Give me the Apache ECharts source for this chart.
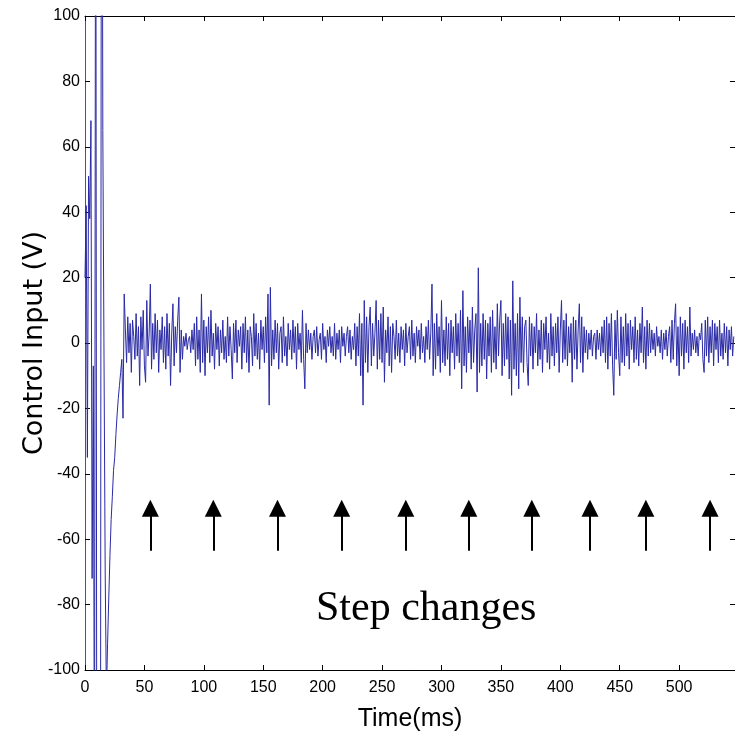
<!DOCTYPE html>
<html>
<head>
<meta charset="utf-8">
<script src="https://cdn.jsdelivr.net/npm/echarts@6/dist/echarts.min.js"></script>
<style>html,body{margin:0;padding:0;background:#fff;}#c{width:735px;height:737px;}</style>
</head>
<body>
<div id="c"></div>
<script>
// Time axis: one sample per ms. Values in volts.
const transientStart = 0;
const transient = [20, 42, -35, 51, 38, 68, -72, -7, -150, 200, -180, -250, -220, -160, 260, 65, -4, -70, -108, -92,
  -78, -65, -54, -47, -39, -35, -28, -22, -17, -13, -9, -5, -23, 15];

const noiseStart = 34;
const noiseA = [4, -6, 8, -3, 6, -9, 7, 2, -5, 9,
  -4, 5, -13, 8, -2, 10, -7, -12, 13, -4,
  3, 18, -8, 6, -5, 9, -3, 7, -9, 4,
  -2, 8, -6, 5, -8, 9, -4, 6, -13, 3,
  12, -7, 5, -3, 7, 14, -9, 4, -5, 2,
  -1, 3, -2, 1, 2, -3, 4, -2, 6, -7,
  8, -5, 4, -9, 15, -6, 7, -10, 5, -3,
  8, -6, 10, -4, 3, -8, 6, -2, 5, -7,
  4, -3, 7, -5, 2, -6, 8, -4, 5, -2,
  -11, 6, -3, 7, -6, 4, -1, 5, -8, 6];
const noiseB = [-3, 8, -6, 4, -9, 5, 2, -7, 9, -4,
  6, -5, 3, -8, 7, -2, 5, -6, 8, -3,
  15, -19, 17, -7, 4, -5, 7, -3, 6, -8,
  3, 5, -6, 8, -4, 2, -7, 6, -2, 4,
  -5, 7, -3, 5, -8, 6, -2, 3, -6, 10,
  -5, -14, 6, -3, 4, -2, 3, -5, 2, 4,
  -3, 5, -4, 1, 3, -5, 6, -2, 2, -6,
  4, -1, 5, -3, 2, -4, 6, -5, 3, -2,
  4, -6, 5, -1, 3, -4, 2, 5, -3, 4,
  -5, 2, -2, 6, -7, 5, -4, 9, -10, 6];
const noiseC = [-19, 13, -6, 8, -9, 5, 11, -7, 6, -4,
  3, 13, -8, 7, -5, 9, -6, 11, -12, 4,
  -3, 8, -7, 5, -9, 6, 2, -5, 7, -4,
  3, -6, 5, -2, 4, -7, 6, -3, 2, 5,
  -5, 7, -4, 3, -6, 5, -1, 4, -5, 6,
  -3, 2, -6, 5, -2, 7, -5, 3, 18, -10,
  6, -8, 9, -4, 5, -9, 13, -6, 4, -7,
  8, -5, 6, -10, 7, -3, 5, -8, 9, -4,
  6, -6, 10, -14, 16, -7, 5, -9, 8, -3,
  7, -8, 11, -6, 4, 9, -15, 23, -9, 6];
const noiseD = [-7, 9, -5, 7, -11, 6, -4, 8, -9, 10,
  -6, 5, -8, 12, -4, 7, 13, -10, 6, -7,
  9, -5, 8, -11, 7, -16, 19, -8, 6, -10,
  9, -14, 14, -6, 8, -9, 5, 7, -6, -13,
  8, -4, 6, -8, 5, -3, 9, -7, 4, -5,
  7, -9, 6, -2, 8, -6, 3, -8, 9, -4,
  5, -7, 6, -3, 8, -9, 4, 13, -6, 7,
  -5, 9, -7, 5, -3, 6, -12, 8, -5, 7,
  -8, 4, 12, -6, 8, -9, 5, -3, 4, -5,
  3, -2, 4, -4, 2, 3, -5, 4, -2, 3];
const noiseE = [-4, 5, -3, 7, -6, 8, -8, 6, -4, 9,
  -7, -16, 7, -5, 10, -3, -10, 8, -6, 5,
  -7, 9, -4, 6, -8, 7, -2, 5, -6, 8,
  -5, 4, -7, 6, -3, 11, -6, 5, -8, 7,
  -4, 6, -3, 4, -2, 3, -4, 5, -1, 2,
  -3, 4, -5, 3, -2, 4, -4, 2, 5, -6,
  7, -5, 6, 12, -7, 5, -10, 8, -4, 6,
  -8, 7, -3, 5, -6, 11, -4, 3, -2, 4,
  -3, 2, -4, 3, 1, 6, -5, -9, 7, -4,
  8, -6, 5, -3, 7, -7, 6, -2, 5, -6,
  7, -4, 3, -5, 6, -3, 5, -7, 4, -2,
  5, -4, 2];

const stepTimes = [55, 108, 162, 216, 270, 323, 376, 425, 472, 526];
const xTicks = {min: 0, max: 547, interval: 50};
const yTicks = {min: -100, max: 100, interval: 20};

const values = transient.concat(noiseA, noiseB, noiseC, noiseD, noiseE);
const data = values.map((v, i) => [transientStart + i, v]);

const chart = echarts.init(document.getElementById('c'), null, {renderer: 'canvas'});
const tickFont = {fontFamily: 'Liberation Sans, Arial, sans-serif', fontSize: 16, color: '#000'};
const tick = {inside: true, length: 5, lineStyle: {color: '#000'}};
chart.setOption({
  animation: false,
  backgroundColor: '#fff',
  grid: {left: 85, right: 0, top: 16, bottom: 63, containLabel: false},
  xAxis: [{
    type: 'value', position: 'bottom', min: xTicks.min, max: xTicks.max, interval: xTicks.interval,
    axisLine: {onZero: false, lineStyle: {color: '#000', width: 1}},
    axisTick: tick,
    axisLabel: Object.assign({margin: 10, showMaxLabel: false}, tickFont),
    splitLine: {show: false},
    name: 'Time(ms)', nameLocation: 'middle', nameGap: 37, nameMoveOverlap: false,
    nameTextStyle: {fontFamily: 'Liberation Sans, Arial, sans-serif', fontSize: 25, color: '#000'}
  }, {
    type: 'value', position: 'top', min: xTicks.min, max: xTicks.max, interval: xTicks.interval,
    axisLine: {onZero: false, lineStyle: {color: '#000', width: 1}},
    axisTick: tick,
    axisLabel: {show: false}, splitLine: {show: false}
  }],
  yAxis: [{
    type: 'value', position: 'left', min: yTicks.min, max: yTicks.max, interval: yTicks.interval,
    axisLine: {onZero: false, lineStyle: {color: '#555', width: 1}},
    axisTick: tick,
    axisLabel: Object.assign({margin: 5}, tickFont),
    splitLine: {show: false},
    name: 'Control Input (V)', nameLocation: 'middle', nameGap: 37, nameMoveOverlap: false,
    nameTextStyle: {fontFamily: 'DejaVu Sans, sans-serif', fontSize: 27, color: '#000'}
  }, {
    type: 'value', position: 'right', min: yTicks.min, max: yTicks.max, interval: yTicks.interval,
    axisLine: {onZero: false, lineStyle: {color: '#000', width: 1}},
    axisTick: tick,
    axisLabel: {show: false}, splitLine: {show: false}
  }],
  series: [{
    type: 'line', data: data, showSymbol: false, symbol: 'none', clip: true,
    lineStyle: {color: '#2a2aa6', width: 1},
    markLine: {
      silent: true, symbol: ['none', 'triangle'], symbolSize: 17,
      lineStyle: {color: '#000', width: 2, type: 'solid'},
      label: {show: false},
      data: stepTimes.map(t => [{coord: [t, -63.5]}, {coord: [t, -50.5]}])
    }
  }],
  graphic: [{
    type: 'text', left: 316, top: 588,
    style: {text: 'Step changes', font: '42px "Liberation Serif", "Times New Roman", serif', fill: '#000'}
  }]
});
</script>
</body>
</html>
